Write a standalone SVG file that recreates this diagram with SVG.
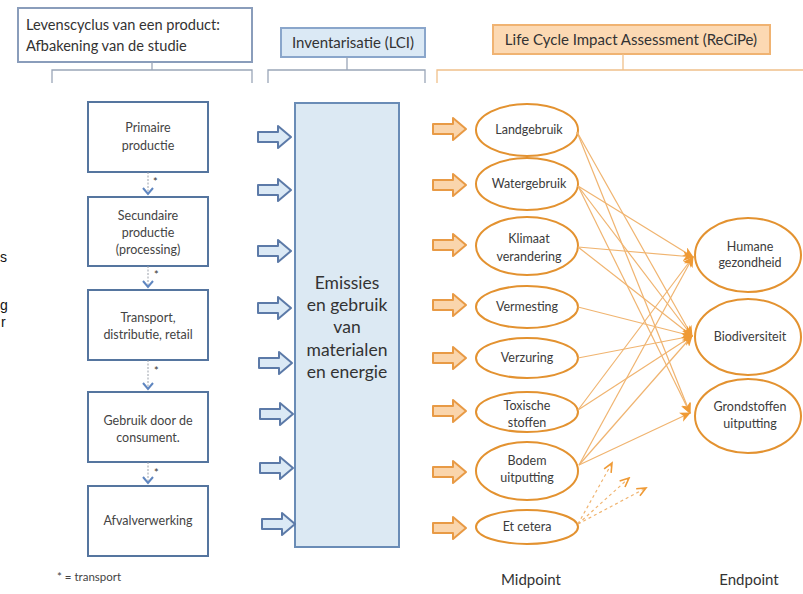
<svg xmlns="http://www.w3.org/2000/svg" width="803" height="594" viewBox="0 0 803 594">
<defs>
<style>
.t{font-family:Lato,"Open Sans",sans-serif;fill:#333}
.hb{fill:#fff;stroke:#8a9dbb;stroke-width:2}
.br{fill:none;stroke:#9aa6b8;stroke-width:1.3}
.bro{fill:none;stroke:#f0c08a;stroke-width:1.3}
.pb{fill:#fff;stroke:#55759f;stroke-width:2}
.pt{font-family:Lato,"Open Sans",sans-serif;font-size:12.5px;fill:#444;text-anchor:middle}
.ba{fill:#dbe9f5;stroke:#5c7aa8;stroke-width:2;stroke-linejoin:round}
.oa{fill:#fad5ac;stroke:#e89a45;stroke-width:2;stroke-linejoin:round}
.el{fill:#fff;stroke:#e39230;stroke-width:2}
.et{font-family:Lato,"Open Sans",sans-serif;font-size:12.5px;fill:#3c3c3c;text-anchor:middle}
.cn{stroke:#f0b470;stroke-width:1.2;fill:none;marker-end:url(#ah)}
.cd{stroke:#f0b470;stroke-width:1.2;fill:none;stroke-dasharray:3 3;marker-end:url(#ahd)}
.sa{stroke:#9aa0aa;stroke-width:1;stroke-dasharray:2 1.5;fill:none}
.ch{stroke:#5f86c0;stroke-width:2;fill:none}
.sf{font-family:"Liberation Sans",sans-serif;font-size:14px;fill:#111}
</style>
<marker id="ah" markerWidth="12" markerHeight="10" refX="10" refY="5" orient="auto" markerUnits="userSpaceOnUse">
<path d="M0,0 L11,5 L0,10 L3,5 z" fill="#ef9a35"/>
</marker>
<marker id="ahd" markerWidth="12" markerHeight="10" refX="10" refY="5" orient="auto" markerUnits="userSpaceOnUse">
<path d="M1,1 L10,5 L1,9" fill="none" stroke="#ef9a35" stroke-width="1.6"/>
</marker>
<path id="arr" d="M0,-5 L20,-5 L20,-11 L33,0 L20,11 L20,5 L0,5 z"/>
</defs>
<rect width="803" height="594" fill="#fff"/>

<!-- fragments at the left edge -->
<text class="sf" x="0" y="262">s</text>
<text class="sf" x="0" y="310">g</text>
<text class="sf" x="1" y="327">r</text>

<!-- headers -->
<g id="header-levenscyclus">
<rect class="hb" x="18" y="8" width="234" height="54"/>
<text class="t" x="26" y="30" font-size="14.6">Levenscyclus van een product:</text>
<text class="t" x="26" y="51" font-size="14.6">Afbakening van de studie</text>
<path class="br" d="M52,83 V70 H252 V83 M152,62 V70"/>
</g>
<g id="header-lci">
<rect x="281" y="28" width="144" height="29" fill="#dbe9f5" stroke="#8aa6cb" stroke-width="2"/>
<text class="t" x="353" y="48" font-size="15" text-anchor="middle">Inventarisatie (LCI)</text>
<path class="br" d="M268,83 V70 H425 V83 M347,57 V70"/>
</g>
<g id="header-lcia">
<rect x="493" y="25" width="277" height="29" fill="#fcd9b3" stroke="#f0b372" stroke-width="2"/>
<text class="t" x="631" y="45" font-size="15" text-anchor="middle">Life Cycle Impact Assessment (ReCiPe)</text>
<path class="bro" d="M437,83 V70 H803 M623,54 V70"/>
</g>

<!-- process boxes -->
<g id="primaire">
<rect class="pb" x="88" y="102" width="120" height="70"/>
<text class="pt" x="148" y="132">Primaire</text>
<text class="pt" x="148" y="150">productie</text>
</g>
<g id="secundaire">
<rect class="pb" x="88" y="197" width="120" height="69"/>
<text class="pt" x="148" y="220">Secundaire</text>
<text class="pt" x="148" y="237">productie</text>
<text class="pt" x="148" y="254">(processing)</text>
</g>
<g id="transport">
<rect class="pb" x="88" y="290" width="120" height="70"/>
<text class="pt" x="148" y="322">Transport,</text>
<text class="pt" x="148" y="339">distributie, retail</text>
</g>
<g id="gebruik">
<rect class="pb" x="88" y="392" width="120" height="70"/>
<text class="pt" x="148" y="425">Gebruik door de</text>
<text class="pt" x="148" y="442">consument.</text>
</g>
<g id="afval">
<rect class="pb" x="88" y="486" width="120" height="70"/>
<text class="pt" x="148" y="525">Afvalverwerking</text>
</g>
<text x="57" y="581" style="font-family:Lato,'Open Sans',sans-serif;font-size:11.5px;fill:#444">* = transport</text>

<!-- LCI block -->
<g id="lci-block">
<rect x="295" y="103" width="104" height="444" fill="#dce9f3" stroke="#6a8cb6" stroke-width="2"/>
<g class="t" font-size="17.5" text-anchor="middle">
<text x="347" y="289">Emissies</text>
<text x="347" y="311">en gebruik</text>
<text x="347" y="333">van</text>
<text x="347" y="356">materialen</text>
<text x="347" y="378">en energie</text>
</g>
</g>

<!-- midpoint ellipses -->
<g id="landgebruik"><ellipse class="el" cx="527" cy="130" rx="51" ry="26"/><text class="et" x="529" y="134">Landgebruik</text></g>
<g id="watergebruik"><ellipse class="el" cx="527" cy="184" rx="51" ry="26"/><text class="et" x="529" y="188">Watergebruik</text></g>
<g id="klimaat"><ellipse class="el" cx="527" cy="246" rx="51" ry="29"/><text class="et" x="529" y="243">Klimaat</text><text class="et" x="529" y="261">verandering</text></g>
<g id="vermesting"><ellipse class="el" cx="527" cy="307" rx="51" ry="21"/><text class="et" x="527" y="311">Vermesting</text></g>
<g id="verzuring"><ellipse class="el" cx="527" cy="358" rx="51" ry="20"/><text class="et" x="527" y="362">Verzuring</text></g>
<g id="toxische"><ellipse class="el" cx="527" cy="412" rx="51" ry="20"/><text class="et" x="527" y="410">Toxische</text><text class="et" x="527" y="427">stoffen</text></g>
<g id="bodem"><ellipse class="el" cx="527" cy="471" rx="51" ry="29"/><text class="et" x="527" y="465">Bodem</text><text class="et" x="527" y="482">uitputting</text></g>
<g id="etcetera"><ellipse class="el" cx="527" cy="527" rx="51" ry="17"/><text class="et" x="527" y="531">Et cetera</text></g>

<!-- endpoint ellipses -->
<g id="humane"><ellipse class="el" cx="748" cy="255" rx="53" ry="37"/><text class="et" x="750" y="251">Humane</text><text class="et" x="750" y="267">gezondheid</text></g>
<g id="biodiversiteit"><ellipse class="el" cx="748" cy="337" rx="53" ry="38"/><text class="et" x="750" y="341">Biodiversiteit</text></g>
<g id="grondstoffen"><ellipse class="el" cx="748" cy="416" rx="53" ry="37"/><text class="et" x="750" y="411">Grondstoffen</text><text class="et" x="750" y="428">uitputting</text></g>

<text class="t" x="531" y="585" font-size="15" text-anchor="middle">Midpoint</text>
<text class="t" x="749" y="585" font-size="15" text-anchor="middle">Endpoint</text>

<!-- connectors -->
<g id="connectors">
<path class="sa" d="M148,172 V194 M148,266 V287 M148,360 V389 M148,462 V483"/>
<path class="ch" d="M143,188 L148,194 L153,188 M143,281 L148,287 L153,281 M143,383 L148,389 L153,383 M143,477 L148,483 L153,477"/>
<g style="font-family:Lato,sans-serif;font-size:11px;fill:#333">
<text x="153" y="186">*</text><text x="154" y="279">*</text><text x="154" y="375">*</text><text x="154" y="477">*</text>
</g>
<g class="ba">
<use href="#arr" x="258" y="137"/><use href="#arr" x="258" y="190"/><use href="#arr" x="258" y="251"/><use href="#arr" x="258" y="308"/>
<use href="#arr" x="259" y="363"/><use href="#arr" x="260" y="414"/><use href="#arr" x="260" y="468"/><use href="#arr" x="262" y="524"/>
</g>
<g class="oa">
<use href="#arr" x="433" y="129"/><use href="#arr" x="433" y="185"/><use href="#arr" x="433" y="245"/><use href="#arr" x="433" y="305"/>
<use href="#arr" x="433" y="358"/><use href="#arr" x="433" y="411"/><use href="#arr" x="433" y="472"/><use href="#arr" x="433" y="528"/>
</g>
<line class="cn" x1="577" y1="132" x2="692" y2="336"/>
<line class="cn" x1="577" y1="132" x2="690" y2="413"/>
<line class="cn" x1="578" y1="186" x2="693" y2="257"/>
<line class="cn" x1="578" y1="186" x2="692" y2="336"/>
<line class="cn" x1="578" y1="186" x2="690" y2="413"/>
<line class="cn" x1="578" y1="247" x2="693" y2="257"/>
<line class="cn" x1="578" y1="247" x2="692" y2="336"/>
<line class="cn" x1="578" y1="307" x2="692" y2="336"/>
<line class="cn" x1="578" y1="358" x2="692" y2="336"/>
<line class="cn" x1="578" y1="410" x2="693" y2="257"/>
<line class="cn" x1="578" y1="410" x2="692" y2="336"/>
<line class="cn" x1="579" y1="465" x2="693" y2="257"/>
<line class="cn" x1="579" y1="465" x2="692" y2="336"/>
<line class="cn" x1="579" y1="465" x2="690" y2="413"/>
<line class="cd" x1="578" y1="524" x2="612" y2="463"/>
<line class="cd" x1="578" y1="524" x2="629" y2="478"/>
<line class="cd" x1="578" y1="524" x2="646" y2="488"/>
</g>
</svg>
